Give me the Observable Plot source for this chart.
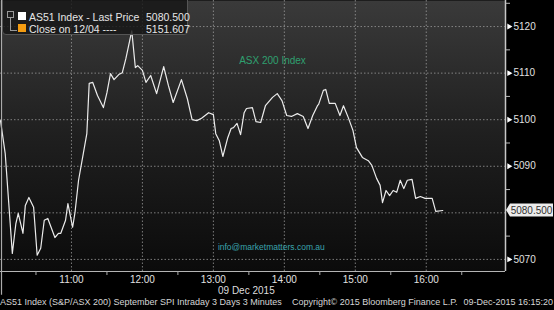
<!DOCTYPE html>
<html>
<head>
<meta charset="utf-8">
<script src="https://cdn.jsdelivr.net/npm/d3@7"></script>
<script src="https://cdn.jsdelivr.net/npm/@observablehq/plot@0.6"></script>
<style>
  html, body { margin: 0; padding: 0; background: #000; overflow: hidden; }
  #wrap { position: relative; width: 554px; height: 310px; font-family: "Liberation Sans", Arial, sans-serif; color: #ddd; }
  #chart svg { display: block; }
  .ov { position: absolute; white-space: nowrap; line-height: 1; }
  #legend { position: absolute; left: 2px; top: -4px; width: 186px; height: 39px; background: rgba(22,22,22,0.82);
            border: 1px solid #555; border-radius: 4px; box-sizing: border-box; font-size: 10.5px; color: #e6e6e6; }
  #legend .row { position: absolute; left: 0; width: 100%; height: 12px; }
  #legend .sw { position: absolute; left: 15px; width: 8px; height: 8px; }
  #legend .lab { position: absolute; left: 26px; }
  #legend .val { position: absolute; left: 143px; }
</style>
</head>
<body>
<div id="wrap">
  <div id="chart"></div>
  <div id="legend">
    <div style="position:absolute;left:4px;top:14px;width:5px;height:5px;border:1px solid #999;"></div>
    <div style="position:absolute;left:7px;top:21px;width:6px;height:12px;border-left:1px solid #999;border-bottom:1px solid #999;"></div>
    <div class="row" style="top:14px;"><div class="sw" style="background:#fff;top:1px;"></div><span class="lab">AS51 Index - Last Price</span><span class="val">5080.500</span></div>
    <div class="row" style="top:26px;"><div class="sw" style="background:#f39c12;top:1px;"></div><span class="lab">Close on 12/04 ----</span><span class="val">5151.607</span></div>
  </div>
  <div class="ov" style="left:218px;top:286px;font-size:10px;color:#ddd;">09 Dec 2015</div>
  <div class="ov" style="left:0px;top:298px;font-size:9px;color:#d6d6d6;">AS51 Index (S&amp;P/ASX 200) September SPI Intraday 3 Days 3 Minutes</div>
  <div class="ov" style="left:292px;top:298px;font-size:9px;color:#d6d6d6;">Copyright© 2015 Bloomberg Finance L.P.</div>
  <div class="ov" style="right:1px;top:298px;font-size:9px;color:#d6d6d6;">09-Dec-2015 16:15:20</div>
</div>
<script>
// ---- data ----
const times = [
  "10:00","10:04","10:10","10:13","10:15","10:19","10:21","10:24","10:28","10:31",
  "10:34","10:37","10:40","10:46","10:49","10:51","10:55","10:57","11:01","11:03",
  "11:06","11:10","11:13","11:15","11:18","11:22","11:27","11:30","11:33","11:36",
  "11:40","11:43","11:46","11:51","11:54","11:56","12:00","12:03","12:07","12:12",
  "12:18","12:22","12:26","12:33","12:38","12:42","12:46","12:50","12:56","13:00",
  "13:02","13:05","13:08","13:12","13:15","13:17","13:20","13:23","13:26","13:28",
  "13:33","13:36","13:40","13:44","13:50","13:54","13:58","14:02","14:06","14:11",
  "14:16","14:20","14:24","14:28","14:29","14:33","14:35","14:38","14:43","14:47",
  "14:50","14:54","14:58","15:01","15:06","15:11","15:14","15:18","15:21","15:23",
  "15:26","15:29","15:32","15:35","15:38","15:41","15:44","15:48","15:51","15:55",
  "15:59","16:05","16:08","16:14"
];
const prices = [
  5099.8, 5092.7, 5071.3, 5077.7, 5079.9, 5075.6, 5081.6, 5083.3, 5081.2, 5070.9,
  5072.4, 5078.4, 5078.8, 5074.7, 5075.6, 5075.6, 5078.4, 5082.0, 5076.9, 5080.1,
  5087.0, 5092.7, 5097.0, 5107.8, 5108.0, 5105.2, 5102.6, 5105.8, 5109.9, 5108.6,
  5109.7, 5110.1, 5113.1, 5119.1, 5111.2, 5111.6, 5110.6, 5108.0, 5109.5, 5105.6,
  5111.4, 5107.3, 5103.7, 5108.6, 5104.5, 5100.0, 5099.8, 5100.3, 5101.5, 5101.1,
  5097.0, 5095.5, 5092.1, 5096.0, 5098.1, 5098.3, 5099.2, 5096.8, 5101.5, 5102.4,
  5102.6, 5099.6, 5099.4, 5103.0, 5104.8, 5105.6, 5104.1, 5100.9, 5100.7, 5101.3,
  5100.7, 5098.1, 5100.9, 5103.0, 5103.3, 5106.3, 5106.5, 5103.5, 5103.5, 5100.9,
  5103.0, 5100.5, 5097.7, 5094.0, 5091.9, 5091.2, 5090.2, 5087.4, 5085.9, 5082.2,
  5084.8, 5083.7, 5084.8, 5084.4, 5087.0, 5085.2, 5087.0, 5087.2, 5083.1, 5083.5,
  5083.1, 5083.1, 5080.3, 5080.5
];
const hourLabels = ["11:00","12:00","13:00","14:00","15:00","16:00"];
const halfHourLabels = ["10:30","11:30","12:30","13:30","14:30","15:30","16:30"];
const yTickValues = [5070, 5090, 5100, 5110, 5120];
const yGridValues = [5070, 5080, 5090, 5100, 5110, 5120];
const yMinorValues = [5075, 5085, 5095, 5105, 5115, 5125];
const lastPrice = 5080.5;
const lastPriceLabel = "5080.500";
const dayStr = "2015-12-09";

// ---- build ----
const parse = d3.timeParse("%Y-%m-%d %H:%M");
const t = s => parse(dayStr + " " + s);
const data = times.map((s, i) => ({time: t(s), price: prices[i]}));
const xDomain = [t("10:00"), t("17:07")];
const yDomain = [5067.4, 5125.6];

const grid = {stroke: "#a0a0a0", strokeDasharray: "1.5,2", strokeOpacity: 0.75, strokeWidth: 1};

const plot = Plot.plot({
  width: 554,
  height: 310,
  marginLeft: 0,
  marginRight: 49,
  marginTop: 0,
  marginBottom: 39,
  style: {background: "#000", fontFamily: "'Liberation Sans', Arial, sans-serif", color: "#ddd", overflow: "visible"},
  x: {type: "time", domain: xDomain},
  y: {domain: yDomain},
  marks: [
    Plot.frame({fill: "url(#bgGrad)", stroke: "none"}),
    Plot.ruleY(yGridValues, grid),
    Plot.ruleX(hourLabels.map(t), grid),
    Plot.line(data, {x: "time", y: "price", stroke: "#ececec", strokeWidth: 1.2}),
    Plot.ruleY([yDomain[0]], {stroke: "#b4b4b4", strokeWidth: 1.2}),
    Plot.ruleX([xDomain[1]], {stroke: "#c8c8c8", strokeWidth: 1.5}),
    Plot.ruleX([xDomain[0]], {y1: yDomain[1], y2: 5062.3, stroke: "#aaa", strokeWidth: 1.2, dx: 1}),
    Plot.axisX({ticks: hourLabels.map(t), tickSize: 0, tickPadding: 4, tickFormat: d3.timeFormat("%H:%M"), fontSize: 10, color: "#e0e0e0", label: null}),
    Plot.axisX({ticks: halfHourLabels.map(t), tickSize: 4, tickFormat: () => "", stroke: "#aaa", label: null}),
    Plot.axisY({anchor: "right", ticks: yTickValues, tickSize: 0, tickPadding: 8, tickFormat: d => String(d), fontSize: 10, color: "#e0e0e0", label: null}),
    Plot.axisY({anchor: "right", ticks: yMinorValues, tickSize: 4, tickFormat: () => "", stroke: "#bbb", label: null}),
    Plot.dot(yTickValues, {x: () => xDomain[1], y: d => d, symbol: "triangle", rotate: 90, r: 2.2, fill: "#fff", stroke: "none", dx: 3.5}),
    Plot.text(["ASX 200 Index"], {x: () => t("13:50"), y: () => 5112.6, text: d => d, fill: "#2fa070", fontSize: 10}),
    Plot.text(["info@marketmatters.com.au"], {x: () => t("13:49"), y: () => 5072.6, text: d => d, fill: "#3aa3ad", fontSize: 8.5})
  ]
});

document.getElementById("chart").appendChild(plot);

// gradient background definition
const svg = d3.select(plot);
const defs = svg.insert("defs", ":first-child");
const lg = defs.append("linearGradient").attr("id", "bgGrad").attr("x1", 0).attr("y1", 0).attr("x2", 0).attr("y2", 1);
lg.append("stop").attr("offset", "0%").attr("stop-color", "#3a3a3a");
lg.append("stop").attr("offset", "50%").attr("stop-color", "#1f1f1f");
lg.append("stop").attr("offset", "100%").attr("stop-color", "#0b0b0b");

// last price tag on the right axis, positioned with the plot's own scales
const yS = plot.scale("y"), xS = plot.scale("x");
const py = yS.apply(lastPrice), px = xS.apply(xDomain[1]);
const tag = svg.append("g");
tag.append("path")
  .attr("d", `M${px + 1},${py} L${px + 5},${py - 6.5} L${px + 48},${py - 6.5} L${px + 48},${py + 6.5} L${px + 5},${py + 6.5} Z`)
  .attr("fill", "#ececec");
tag.append("text").attr("x", px + 26.5).attr("y", py).attr("dy", "0.36em")
  .attr("text-anchor", "middle").attr("font-size", 10).attr("fill", "#333")
  .attr("font-family", "'Liberation Sans', Arial, sans-serif").text(lastPriceLabel);
</script>
</body>
</html>
